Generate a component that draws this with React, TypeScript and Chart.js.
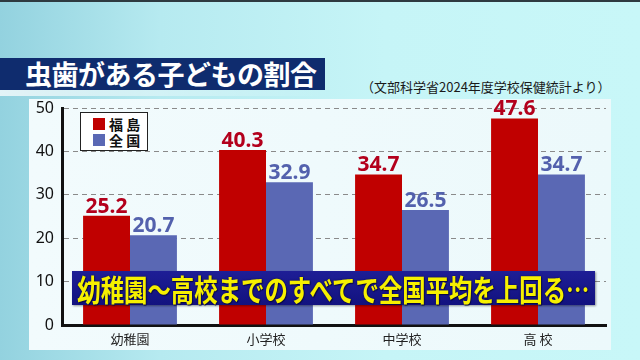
import React, { useEffect, useRef } from "react";
import { Chart, registerables } from "chart.js";

Chart.register(...registerables);

const categories = ["幼稚園", "小学校", "中学校", "高 校"];
const fukushima = [25.2, 40.3, 34.7, 47.6];
const national = [20.7, 32.9, 26.5, 34.7];
const seriesNames = ["福 島", "全 国"];
const yTicks = [0, 10, 20, 30, 40, 50];

const RED = "#c00000";
const BLUE = "#5a68b4";
const RED_LABEL = "#b3001c";
const BLUE_LABEL = "#5361ad";

const valueLabels = {
  id: "valueLabels",
  afterDatasetsDraw(chart: any) {
    const ctx = chart.ctx;
    ctx.save();
    ctx.font = "bold 21px 'Noto Sans', 'DejaVu Sans', sans-serif";
    ctx.textAlign = "center";
    ctx.textBaseline = "alphabetic";
    chart.data.datasets.forEach((ds: any, di: number) => {
      const meta = chart.getDatasetMeta(di);
      ctx.fillStyle = di === 0 ? RED_LABEL : BLUE_LABEL;
      meta.data.forEach((el: any, i: number) => {
        ctx.fillText(Number(ds.data[i]).toFixed(1), el.x, el.y - 3);
      });
    });
    ctx.restore();
  },
};

export default function App() {
  const ref = useRef<HTMLCanvasElement | null>(null);
  useEffect(() => {
    if (!ref.current) return;
    const chart = new Chart(ref.current, {
      type: "bar",
      data: {
        labels: categories,
        datasets: [
          { label: seriesNames[0], data: fukushima, backgroundColor: RED, barPercentage: 1, categoryPercentage: 0.69 },
          { label: seriesNames[1], data: national, backgroundColor: BLUE, barPercentage: 1, categoryPercentage: 0.69 },
        ],
      },
      options: {
        responsive: false,
        animation: false,
        layout: { padding: { left: 22, top: 108, right: 34, bottom: 5 } },
        plugins: { legend: { display: false }, tooltip: { enabled: false } },
        scales: {
          x: {
            afterFit: (s: any) => { s.height = 30; },
            grid: { display: false, drawTicks: false },
            border: { display: true, color: "#111", width: 3 },
            ticks: { color: "#222", padding: 6, font: { size: 13, family: "'Noto Sans CJK JP', sans-serif" } },
          },
          y: {
            min: 0,
            max: 50,
            afterFit: (s: any) => { s.width = 40; },
            afterBuildTicks: (s: any) => { s.ticks = yTicks.map((v) => ({ value: v })); },
            grid: { color: "#8a8a8a", lineWidth: 1, drawTicks: false },
            border: { display: true, color: "#111", width: 3, dash: [5, 4] },
            ticks: { color: "#111", padding: 8, font: { size: 16, family: "'Noto Sans', sans-serif" } },
          },
        },
      },
      plugins: [valueLabels],
    });
    return () => chart.destroy();
  }, []);

  const jp = "'Noto Sans CJK JP', sans-serif";
  return (
    <div
      style={{
        position: "fixed",
        left: 0,
        top: 0,
        width: 640,
        height: 360,
        overflow: "hidden",
        background: "linear-gradient(90deg, #93d2df 0%, #b6eaf0 25%, #c6f5f7 60%, #c8f7f8 100%)",
        fontFamily: jp,
      }}
    >
      <div style={{ position: "absolute", left: 0, top: 0, width: 640, height: 2, background: "#2e3a40" }} />
      <div
        style={{
          position: "absolute",
          left: 0,
          top: 58,
          width: 325,
          height: 32,
          background: "#0f2c6e",
          color: "#fff",
          fontWeight: 700,
          fontSize: 27,
          letterSpacing: -0.5,
          lineHeight: "32px",
          paddingLeft: 25,
          boxSizing: "border-box",
          whiteSpace: "nowrap",
        }}
      >
        虫歯がある子どもの割合
      </div>
      <div
        style={{
          position: "absolute",
          left: 0,
          top: 90,
          width: 330,
          height: 6,
          background: "linear-gradient(90deg, rgba(255,255,255,0.75), rgba(255,255,255,0))",
        }}
      />
      <div
        style={{
          position: "absolute",
          left: 361,
          top: 78,
          fontSize: 13,
          lineHeight: "18px",
          color: "#1a1a1a",
          whiteSpace: "nowrap",
        }}
      >
        （文部科学省2024年度学校保健統計より）
      </div>
      <div
        style={{
          position: "absolute",
          left: 29,
          top: 99,
          width: 582,
          height: 251,
          background: "linear-gradient(90deg, #f2fbfd, #ecf9fb)",
        }}
      />
      <canvas ref={ref} width={640} height={360} style={{ position: "absolute", left: 0, top: 0 }} />
      <div
        style={{
          position: "absolute",
          left: 80,
          top: 112,
          width: 68,
          height: 39,
          background: "#fff",
          border: "1px solid #222",
          boxSizing: "border-box",
          fontSize: 14,
          fontWeight: 700,
          color: "#111",
        }}
      >
        {seriesNames.map((n, i) => (
          <div key={n} style={{ position: "absolute", left: 12, top: 4 + i * 16, height: 14, display: "flex", alignItems: "center" }}>
            <span style={{ display: "inline-block", width: 12, height: 12, background: i === 0 ? RED : BLUE, marginRight: 4 }} />
            <span style={{ lineHeight: "14px", whiteSpace: "pre" }}>{n}</span>
          </div>
        ))}
      </div>
      <div
        style={{
          position: "absolute",
          left: 72,
          top: 271,
          width: 523,
          height: 34,
          background: "linear-gradient(180deg, #1e1e96, #12127f)",
          boxShadow: "1px 1px 2px rgba(0,0,0,0.4)",
          display: "flex",
          alignItems: "center",
          justifyContent: "center",
          overflow: "visible",
        }}
      >
        <span
          style={{
            display: "inline-block",
            whiteSpace: "nowrap",
            color: "#f6f000",
            fontWeight: 700,
            fontSize: 30,
            lineHeight: "34px",
            transform: "scaleX(0.78)",
            transformOrigin: "center",
            textShadow: "0 0 2px #0a0a40, 1px 1px 1px #0a0a40",
          }}
        >
          幼稚園〜高校までのすべてで全国平均を上回る…
        </span>
      </div>
    </div>
  );
}
